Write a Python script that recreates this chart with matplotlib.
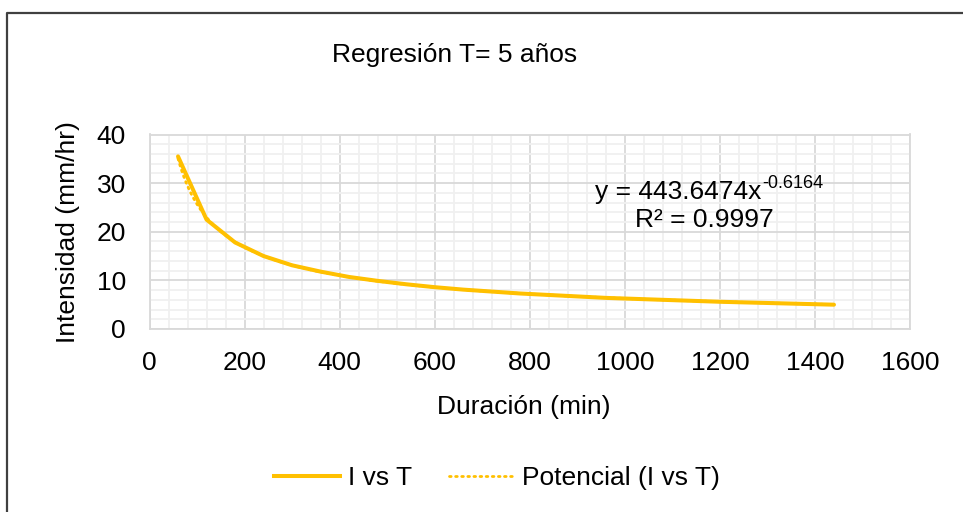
import numpy as np
import matplotlib
matplotlib.use('Agg')
import matplotlib.pyplot as plt
from matplotlib.lines import Line2D
from matplotlib.ticker import MultipleLocator

plt.rcParams['font.family'] = ['Liberation Sans', 'DejaVu Sans']

# duration (min) and intensity (mm/hr)
duracion = [60, 120, 180, 240, 300, 360, 420, 480, 540, 600, 660, 720,
            780, 840, 900, 960, 1020, 1080, 1140, 1200, 1260, 1320, 1380, 1440]
intensidad = [35.5, 22.5, 17.8, 15.0, 13.1, 11.8, 10.7, 9.9, 9.2, 8.6, 8.1, 7.7,
              7.3, 7.0, 6.7, 6.4, 6.2, 6.0, 5.8, 5.6, 5.45, 5.3, 5.15, 5.0]

titulo = 'Regresión T= 5 años'
ecuacion = 'y = 443.6474x'
exponente = '-0.6164'
r2_texto = 'R² = 0.9997'

gold = '#FFC000'
fs = 19

fig = plt.figure(figsize=(9.63, 5.12), dpi=100)
ax = fig.add_axes([149.5 / 963, 1 - 329 / 512, (910 - 149.5) / 963, (329 - 134.5) / 512])

# power trendline fitted in log space (Excel "Potencial")
x = np.array(duracion, dtype=float)
y = np.array(intensidad, dtype=float)
b, ln_a = np.polyfit(np.log(x), np.log(y), 1)
xt = np.linspace(x.min(), x.max(), 300)
yt = np.exp(ln_a) * xt ** b

dotted = (0, (0.6, 1.6))
ax.plot(x, y, color=gold, lw=2.9, solid_capstyle='round', solid_joinstyle='round', zorder=3)
ax.plot(xt, yt, color=gold, lw=2.0, linestyle=dotted, dash_capstyle='round', zorder=4)

ax.set_xlim(0, 1600)
ax.set_ylim(0, 40)
ax.xaxis.set_major_locator(MultipleLocator(200))
ax.xaxis.set_minor_locator(MultipleLocator(40))
ax.yaxis.set_major_locator(MultipleLocator(10))
ax.yaxis.set_minor_locator(MultipleLocator(2))
ax.grid(which='major', color='#d9d9d9', lw=1.3, zorder=1)
ax.grid(which='minor', color='#f0f0f0', lw=1.3, zorder=0)
ax.set_axisbelow(True)
for s in ax.spines.values():
    s.set_color('#d9d9d9')
    s.set_linewidth(1.3)
ax.tick_params(which='both', length=0, labelsize=fs, colors='black')
ax.tick_params(axis='x', pad=16)
ax.tick_params(axis='y', pad=17)

fig.text(455 / 963, 1 - 55 / 512, titulo, fontsize=fs, ha='center', va='center')
fig.text(68 / 963, 1 - 232 / 512, 'Intensidad (mm/hr)', fontsize=fs, rotation=90,
         ha='center', va='center')
fig.text(524 / 963, 1 - 407 / 512, 'Duración (min)', fontsize=fs, ha='center', va='center')

# trendline equation with superscript exponent
eq = fig.text(595 / 963, 1 - 192 / 512, ecuacion, fontsize=fs, ha='left', va='center')
fig.canvas.draw()
bb = eq.get_window_extent()
fig.text(bb.x1 / 963 + 0.5 / 963, 1 - 175 / 512, exponente, fontsize=13,
         ha='left', va='top')
fig.text(704 / 963, 1 - 220 / 512, r2_texto, fontsize=fs, ha='center', va='center')

handles = [Line2D([], [], color=gold, lw=2.9),
           Line2D([], [], color=gold, lw=2.0, linestyle=dotted, dash_capstyle='round')]
fig.legend(handles, ['I vs T', 'Potencial (I vs T)'], loc='center',
           bbox_to_anchor=(497 / 963, 1 - 478 / 512), ncol=2, frameon=False,
           fontsize=fs, handlelength=2.5, handletextpad=0.3, columnspacing=1.4)

# outer chart border (only left and top visible)
fig.add_artist(Line2D([7 / 963, 7 / 963, 1.0], [0.0, 1 - 12.5 / 512, 1 - 12.5 / 512],
                      transform=fig.transFigure, color='#404040', lw=1.6))

fig.savefig('out.png', dpi=100, facecolor='white')
